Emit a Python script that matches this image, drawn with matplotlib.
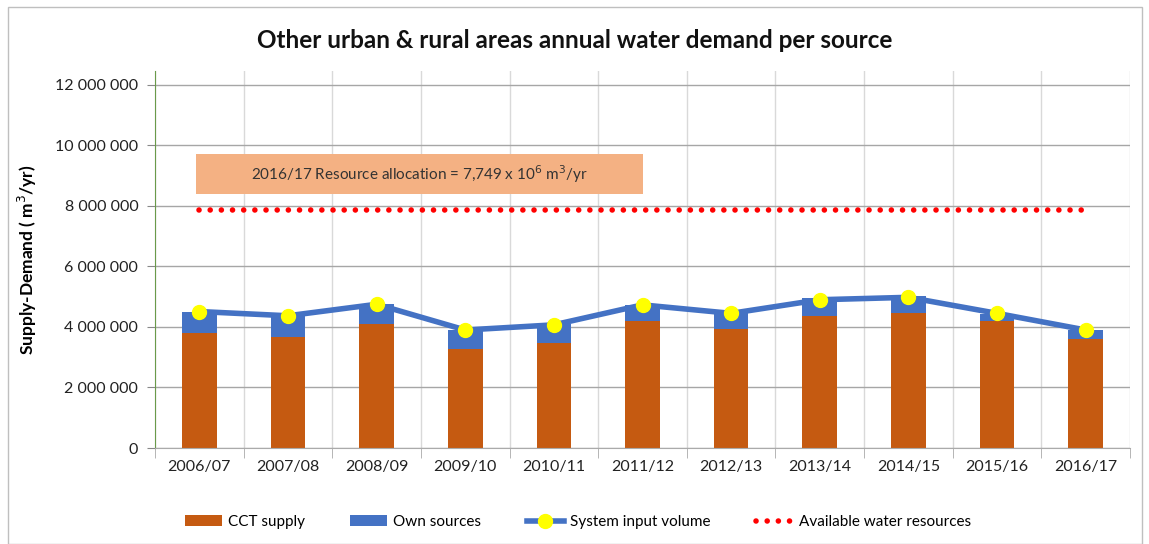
import numpy as np
import matplotlib.pyplot as plt
from matplotlib.lines import Line2D
import matplotlib.patches as mpatches

plt.rcParams['font.family'] = ['Lato', 'DejaVu Sans']

years = ["2006/07", "2007/08", "2008/09", "2009/10", "2010/11", "2011/12",
         "2012/13", "2013/14", "2014/15", "2015/16", "2016/17"]
cct_supply = [3.79e6, 3.66e6, 4.09e6, 3.28e6, 3.46e6, 4.21e6,
              3.93e6, 4.37e6, 4.47e6, 4.20e6, 3.59e6]
own_sources = [0.72e6, 0.76e6, 0.66e6, 0.62e6, 0.63e6, 0.52e6,
               0.60e6, 0.58e6, 0.55e6, 0.22e6, 0.31e6]
system_input = [4.51e6, 4.37e6, 4.75e6, 3.90e6, 4.07e6, 4.73e6,
                4.45e6, 4.90e6, 4.98e6, 4.45e6, 3.90e6]
available = 7.87e6
y_ticks = [0, 2e6, 4e6, 6e6, 8e6, 10e6, 12e6]

colors = {
    'cct': '#C55A11',
    'own': '#4472C4',
    'line': '#4472C4',
    'dot': '#FFFF00',
    'avail': '#FF0000',
    'box': '#F4B183',
}
dotted = (0, (0.01, 2.0))

fig = plt.figure(figsize=(11.49, 5.44), dpi=100)
ax = fig.add_axes([155 / 1149, 1 - 448 / 544, (1130 - 155) / 1149, (448 - 71) / 544])

x = np.arange(len(years))
ax.bar(x, cct_supply, width=0.39, color=colors['cct'], zorder=2)
ax.bar(x, own_sources, width=0.39, bottom=cct_supply, color=colors['own'], zorder=2)
ax.plot(x, system_input, color=colors['line'], lw=4, marker='o', ms=10,
        mfc=colors['dot'], mec=colors['dot'], zorder=3)
ax.plot(x, [available] * len(x), color=colors['avail'], lw=4,
        linestyle=dotted, dash_capstyle='round', zorder=3)

# axes styling
ax.set_xlim(-0.5, len(years) - 0.5)
ax.set_ylim(0, 12.46e6)
ax.set_yticks(y_ticks)
ax.set_yticklabels(["0" if v == 0 else f"{int(v):,}".replace(",", " ") for v in y_ticks],
                   fontsize=11.5, color='#222222')
ax.set_xticks(x)
ax.set_xticklabels(years, fontsize=11.5, color='#222222')
ax.tick_params(axis='x', length=0, pad=9)
ax.tick_params(axis='y', length=6, color='#888888', pad=6)
ax.set_xticks(np.arange(-0.5, len(years)), minor=True)
ax.tick_params(axis='x', which='minor', length=7, color='#aaaaaa')
ax.grid(True, axis='y', color='#a6a6a6', lw=1, zorder=0)
ax.grid(True, axis='x', which='minor', color='#d9d9d9', lw=1, zorder=0)
for s in ['top', 'right']:
    ax.spines[s].set_visible(False)
ax.spines['left'].set_color('#6a9a4a')
ax.spines['bottom'].set_color('#aaaaaa')

ax.set_ylabel("Supply-Demand ( m$^3$/yr)", fontsize=12.5, fontweight='bold', labelpad=12)

# annotation box
ax.add_patch(mpatches.Rectangle((-0.04, 8.40e6), 5.04, 1.32e6, facecolor=colors['box'],
                                edgecolor='none', zorder=3))
ax.text(2.48, 9.06e6, "2016/17 Resource allocation = 7,749 x 10$^6$ m$^3$/yr",
        ha='center', va='center', fontsize=11, color='#333333', zorder=4)

fig.text(575 / 1149, 1 - 40 / 544, "Other urban & rural areas annual water demand per source",
         ha='center', va='center', fontsize=17.5, fontweight='bold', color='#111111')

legend_elements = [
    mpatches.Patch(facecolor=colors['cct'], label='CCT supply'),
    mpatches.Patch(facecolor=colors['own'], label='Own sources'),
    Line2D([0], [0], color=colors['line'], lw=4, marker='o', ms=10,
           mfc=colors['dot'], mec=colors['dot'], label='System input volume'),
    Line2D([0], [0], color=colors['avail'], lw=4, linestyle=dotted,
           dash_capstyle='round', label='Available water resources'),
]
fig.legend(handles=legend_elements, loc='center', bbox_to_anchor=(578 / 1149, 1 - 522 / 544),
           ncol=4, frameon=False, fontsize=11, handlelength=2.4, columnspacing=3.0,
           handletextpad=0.4)

# outer chart border
fig.add_artist(mpatches.Rectangle((8 / 1149, 0), (1142 - 8) / 1149, 1 - 7 / 544,
                                  transform=fig.transFigure, fill=False,
                                  edgecolor='#bfbfbf', lw=1))

fig.savefig("out.png", dpi=100)
